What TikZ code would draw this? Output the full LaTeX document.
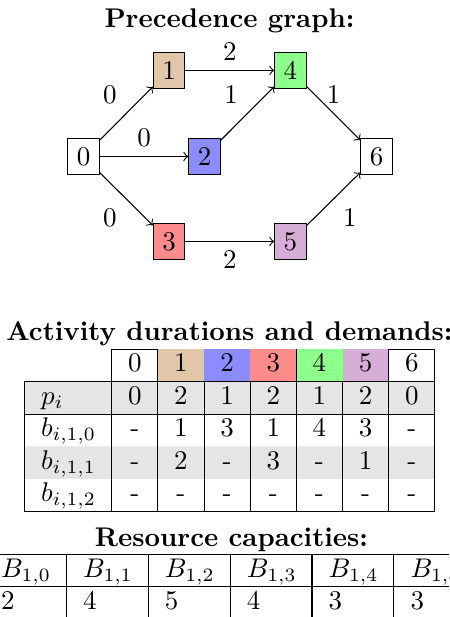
\documentclass[tikz,border=0pt]{standalone}
\usepackage{amsmath}
\usepackage{tikz}

\begin{document}
\begin{tikzpicture}[x=1cm,y=1cm,>=to,
                    act/.style={draw,fill=#1},
                    cell/.style={anchor=base,inner sep=0pt},
                    lcell/.style={anchor=base west,inner sep=0pt},
                    hd/.style={font=\bfseries,anchor=base,inner sep=0pt}]
  \useasboundingbox (0,0) rectangle (5.845,8.031);
  \clip (0,0) rectangle (5.845,8.031);
  % precedence graph
  \node[hd] (tg) at (2.987,7.667) {Precedence graph:};
  \node[act=white] (a0) at (1.087,5.994) {0};
  \node[act=brown!45] (a1) at (2.200,7.114) {1};
  \node[act=blue!45] (a2) at (2.662,5.994) {2};
  \node[act=red!45] (a3) at (2.200,4.888) {3};
  \node[act=green!45] (a4) at (3.781,7.114) {4};
  \node[act=violet!32] (a5) at (3.781,4.888) {5};
  \node[act=white] (a6) at (4.901,5.994) {6};
  \draw[->] (a0) -- node[above left] (l01) {0} (a1);
  \draw[->] (a0) -- node[above] (l02) {0} (a2);
  \draw[->] (a0) -- node[below left] (l03) {0} (a3);
  \draw[->] (a1) -- node[above] (l14) {2} (a4);
  \draw[->] (a2) -- node[above left] (l24) {1} (a4);
  \draw[->] (a3) -- node[below] (l35) {2} (a5);
  \draw[->] (a4) -- node[above] (l46) {1} (a6);
  \draw[->] (a5) -- node[below right] (l56) {1} (a6);
  % durations and demands
  \node[hd] (ta) at (2.987,3.597) {Activity durations and demands:};
  \fill[gray!20] (0.316,2.641) rectangle (5.661,3.063) (0.316,1.798) rectangle (5.661,2.220);
  \fill[brown!45] (2.055,3.063) rectangle (2.656,3.485);
  \fill[blue!45] (2.656,3.063) rectangle (3.257,3.485);
  \fill[red!45] (3.257,3.063) rectangle (3.858,3.485);
  \fill[green!45] (3.858,3.063) rectangle (4.459,3.485);
  \fill[violet!32] (4.459,3.063) rectangle (5.060,3.485);
  \draw (1.454,3.485) -- (2.055,3.485) (5.060,3.485) -- (5.661,3.485);
  \draw (0.316,3.063) -- (5.661,3.063) (0.316,2.641) -- (5.661,2.641) (0.316,1.376) -- (5.661,1.376);
  \draw (0.316,3.063) -- (0.316,1.376);
  \foreach \x in {1.454,2.055,2.656,3.257,3.858,4.459,5.060,5.661}
    \draw (\x,3.063) -- (\x,1.376);
  \foreach \x in {1.454,2.055,3.858,5.060,5.661}
    \draw (\x,3.485) -- (\x,3.063);
  \node[lcell] (rp) at (0.527,2.768) {$p_i$};
  \node[lcell] (r0) at (0.527,2.346) {$b_{i,1,0}$};
  \node[lcell] (r1) at (0.527,1.925) {$b_{i,1,1}$};
  \node[lcell] (r2) at (0.527,1.503) {$b_{i,1,2}$};
  \foreach \v [count=\k from 0] in {0,1,2,3,4,5,6}
    \node[cell] (h\k) at ({1.7545+0.601*\k},3.190) {\v};
  \foreach \v [count=\k from 0] in {0,2,1,2,1,2,0}
    \node[cell] (p\k) at ({1.7545+0.601*\k},2.768) {\v};
  \foreach \v [count=\k from 0] in {-,1,3,1,4,3,-}
    \node[cell] (u\k) at ({1.7545+0.601*\k},2.346) {\v};
  \foreach \v [count=\k from 0] in {-,2,-,3,-,1,-}
    \node[cell] (v\k) at ({1.7545+0.601*\k},1.925) {\v};
  \foreach \v [count=\k from 0] in {-,-,-,-,-,-,-}
    \node[cell] (w\k) at ({1.7545+0.601*\k},1.503) {\v};
  % capacities
  \node[hd] (tr) at (3.013,0.924) {Resource capacities:};
  \draw (0,0.814) -- (5.845,0.814) (0,0.392) -- (5.845,0.392);
  \foreach \x in {0.863,1.929,2.995,4.061,5.127}
    \draw (\x,0.814) -- (\x,0);
  \foreach \v [count=\k from 0] in {2,4,5,4,3,3} {
    \node[lcell] (B\k) at ({0.008+1.066*\k},0.519) {$B_{1,\k}$};
    \node[lcell] (c\k) at ({0.008+1.066*\k},0.097) {\v};
  }
\end{tikzpicture}
\end{document}
